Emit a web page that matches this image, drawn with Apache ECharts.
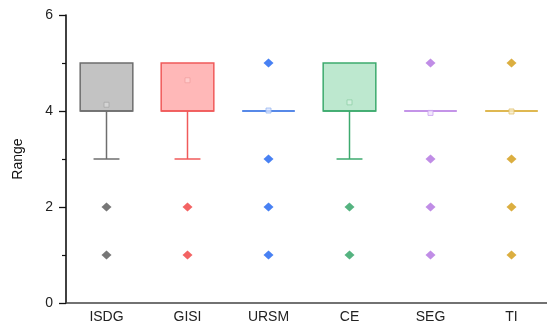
<!DOCTYPE html>
<html><head><meta charset="utf-8">
<script src="https://cdn.jsdelivr.net/npm/echarts@6/dist/echarts.min.js"></script>
<style>html,body{margin:0;padding:0;background:#fff}#c{width:547px;height:325px}</style>
</head><body><div id="c"></div>
<script>
var categories = ['ISDG','GISI','URSM','CE','SEG','TI'];
var lowWhisker = [3,3,4,3,4,4];
var q1 = [4,4,4,4,4,4];
var median = [4,4,4,4,4,4];
var q3 = [5,5,4,5,4,4];
var highWhisker = [5,5,4,5,4,4];
var means = [4.13,4.64,4.01,4.18,3.96,3.99];
var outliers = [[2,1],[2,1],[5,3,2,1],[2,1],[5,3,2,1],[5,3,2,1]];
var yTicks = [0,2,4,6];

var strokeColors = ['#6e6e6e','#f05a5a','#1f62e0','#3daa6e','#b070e0','#d4a017'];
var fillColors = ['#c3c3c3','#ffb8b8','#b8d0ff','#bde8cf','#e3ccf7','#f3e3b0'];
var dotColors = ['#555555','#f03c3c','#1a62f0','#2aa060','#b070e0','#d29a10'];
var meanColors = ['#a8a8a8','#f0a0a0','#9ab8f0','#8fcfa8','#c8a0f0','#e0c070'];
var meanFill = ['#d8d8d8','#ffd0d0','#d8e4ff','#d5f0e0','#f0e4fb','#f7ecc8'];

var boxData = categories.map(function(c,i){return [i,lowWhisker[i],q1[i],median[i],q3[i],highWhisker[i]];});
var outData = [];
outliers.forEach(function(arr,i){arr.forEach(function(v){outData.push({value:[i,v],itemStyle:{color:dotColors[i]}});});});
var meanData = means.map(function(m,i){return {value:[i,m],itemStyle:{color:meanFill[i],borderColor:meanColors[i],borderWidth:1}};});

var chart = echarts.init(document.getElementById('c'));
chart.setOption({
  animation:false,
  grid:{left:66,top:15,bottom:22,width:486,outerBoundsMode:'none',containLabel:false},
  xAxis:{type:'category',data:categories,
    axisLine:{lineStyle:{color:'#444',width:1.5}},
    axisTick:{alignWithLabel:true,length:5,lineStyle:{color:'#444',width:1.3}},
    axisLabel:{color:'#222',fontSize:14,fontFamily:'Liberation Sans, Arial',margin:7},
    splitLine:{show:false}},
  yAxis:{type:'value',min:0,max:6,interval:2,
    name:'Range',nameLocation:'middle',nameGap:41,nameRotate:90,
    nameTextStyle:{color:'#111',fontSize:14,fontFamily:'Liberation Sans, Arial'},
    axisLine:{show:true,lineStyle:{color:'#111',width:1.6}},
    axisTick:{show:true,length:7,lineStyle:{color:'#111',width:1.3}},
    minorTick:{show:true,splitNumber:2,length:4,lineStyle:{color:'#111',width:1.2}},
    axisLabel:{color:'#222',fontSize:14,fontFamily:'Liberation Sans, Arial',margin:13,
      formatter:function(v){return yTicks.indexOf(v)>=0?String(v):'';}},
    splitLine:{show:false}},
  series:[
    {type:'custom',data:boxData,clip:false,z:2,
     renderItem:function(params,api){
       var i=api.value(0);
       var lo=api.value(1),a=api.value(2),md=api.value(3),b=api.value(4),hi=api.value(5);
       var bw=api.size([1,0])[0];
       var boxW=bw*0.65, capW=bw*0.32;
       var c=api.coord([i,md]);
       var x=c[0];
       var pLo=api.coord([i,lo])[1],pA=api.coord([i,a])[1],pB=api.coord([i,b])[1],pHi=api.coord([i,hi])[1],pMd=c[1];
       var sc=strokeColors[i], fc=fillColors[i];
       var ch=[];
       if(pA-pB>0.5){
         ch.push({type:'rect',shape:{x:x-boxW/2,y:pB,width:boxW,height:pA-pB},style:{fill:fc,stroke:sc,lineWidth:1.5}});
       }
       ch.push({type:'line',shape:{x1:x-boxW/2,y1:pMd,x2:x+boxW/2,y2:pMd},style:{stroke:sc,lineWidth:1.5}});
       if(pLo-pA>0.5){
         ch.push({type:'line',shape:{x1:x,y1:pA,x2:x,y2:pLo},style:{stroke:sc,lineWidth:1.5}});
         ch.push({type:'line',shape:{x1:x-capW/2,y1:pLo,x2:x+capW/2,y2:pLo},style:{stroke:sc,lineWidth:1.5}});
       }
       if(pB-pHi>0.5){
         ch.push({type:'line',shape:{x1:x,y1:pB,x2:x,y2:pHi},style:{stroke:sc,lineWidth:1.5}});
         ch.push({type:'line',shape:{x1:x-capW/2,y1:pHi,x2:x+capW/2,y2:pHi},style:{stroke:sc,lineWidth:1.5}});
       }
       return {type:'group',children:ch};
     }},
    {type:'scatter',data:outData,symbol:'diamond',symbolSize:[10,9],z:3},
    {type:'scatter',data:meanData,symbol:'rect',symbolSize:5,z:4}
  ]
});
</script></body></html>
